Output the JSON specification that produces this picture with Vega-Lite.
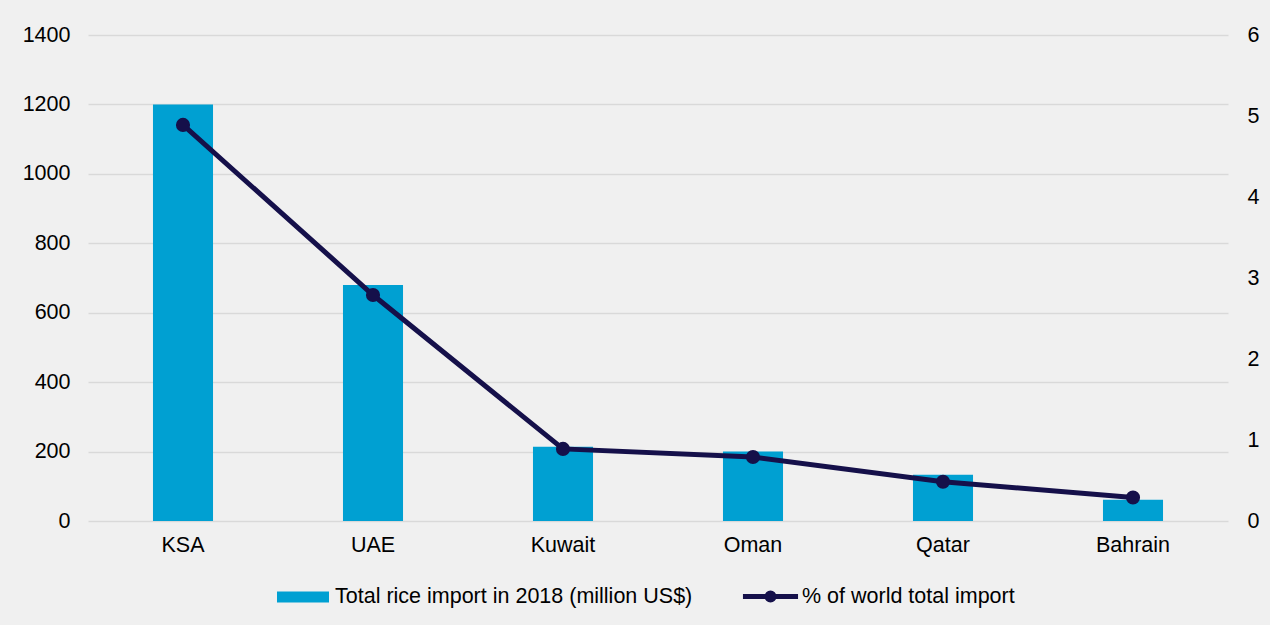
{
  "$schema": "https://vega.github.io/schema/vega-lite/v6.json",
  "width": 1140,
  "height": 486,
  "autosize": {"type": "none"},
  "padding": {"left": 88, "top": 35, "right": 42, "bottom": 104},
  "background": "#f0f0f0",
  "data": {
    "values": [
      {"country": "KSA", "import": 1200, "share": 4.89},
      {"country": "UAE", "import": 680, "share": 2.79},
      {"country": "Kuwait", "import": 214, "share": 0.89},
      {"country": "Oman", "import": 200, "share": 0.79},
      {"country": "Qatar", "import": 133, "share": 0.485},
      {"country": "Bahrain", "import": 61, "share": 0.29}
    ]
  },
  "config": {
    "view": {"stroke": null},
    "font": "Liberation Sans",
    "axis": {"labelFont": "Liberation Sans", "labelFontSize": 21.5, "labelColor": "#000000", "ticks": false, "domain": false, "title": null}
  },
  "encoding": {
    "x": {
      "field": "country",
      "type": "nominal",
      "sort": null,
      "scale": {"paddingInner": 0.684, "paddingOuter": 0.342},
      "axis": {"labelAngle": 0, "labelPadding": 13, "grid": false}
    }
  },
  "layer": [
    {
      "mark": {"type": "bar", "color": "#00A0D2"},
      "encoding": {
        "y": {
          "field": "import",
          "type": "quantitative",
          "scale": {"domain": [0, 1400], "nice": false},
          "axis": {"values": [0, 200, 400, 600, 800, 1000, 1200, 1400], "format": "d", "grid": true, "gridColor": "#d9d9d9", "gridWidth": 1.5, "labelPadding": 18, "minExtent": 88, "maxExtent": 88}
        },
        "fill": {
          "datum": "Total rice import in 2018 (million US$)",
          "type": "nominal",
          "scale": {"range": ["#00A0D2"]},
          "legend": {
            "orient": "none",
            "legendX": 188,
            "legendY": 535,
            "title": null,
            "padding": 0,
            "symbolType": "M-0.963,-0.204L0.963,-0.204L0.963,0.204L-0.963,0.204Z",
            "symbolSize": 2916,
            "symbolStrokeWidth": 0,
            "labelOffset": 5,
            "labelFontSize": 21.5,
            "labelFont": "Liberation Sans",
            "labelColor": "#000000",
            "labelLimit": 600
          }
        }
      }
    },
    {
      "mark": {"type": "line", "strokeWidth": 5},
      "encoding": {
        "y": {
          "field": "share",
          "type": "quantitative",
          "scale": {"domain": [0, 6], "nice": false},
          "axis": {"orient": "right", "values": [0, 1, 2, 3, 4, 5, 6], "grid": false, "labelPadding": 19, "minExtent": 42, "maxExtent": 42}
        },
        "stroke": {
          "datum": "% of world total import",
          "type": "nominal",
          "scale": {"range": ["#15104A"]},
          "legend": {
            "orient": "none",
            "legendX": 653,
            "legendY": 532,
            "title": null,
            "padding": 0,
            "symbolType": "M-1.02,0L1.02,0M-0.13,0A0.13,0.13 0 1,0 0.13,0A0.13,0.13 0 1,0 -0.13,0",
            "symbolSize": 2916,
            "symbolStrokeWidth": 5,
            "symbolFillColor": "#15104A",
            "labelOffset": 2,
            "labelFontSize": 21.5,
            "labelFont": "Liberation Sans",
            "labelColor": "#000000",
            "labelLimit": 600
          }
        }
      }
    },
    {
      "mark": {"type": "point", "filled": true, "size": 200, "color": "#15104A", "opacity": 1},
      "encoding": {
        "y": {"field": "share", "type": "quantitative", "scale": {"domain": [0, 6], "nice": false}, "axis": null}
      }
    }
  ],
  "resolve": {"scale": {"y": "independent"}}
}
